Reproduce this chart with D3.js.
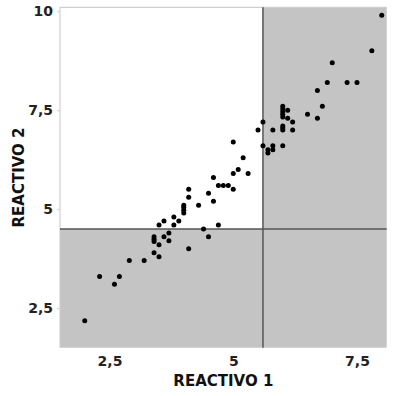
<!DOCTYPE html>
<html>
<head>
<meta charset="utf-8">
<script src="https://cdn.jsdelivr.net/npm/d3@7"></script>
<style>
  body { margin: 0; background: #fff; }
  .tickText { font-family: "DejaVu Sans", sans-serif; font-weight: bold; font-size: 14px; fill: #222; }
  .axisText { font-family: "DejaVu Sans", sans-serif; font-weight: bold; font-size: 15px; fill: #111; }
</style>
</head>
<body>
<div id="scatter"></div>
<script>
// Data.
var reactivo1 = [2.0, 2.3, 2.6, 2.7, 2.9, 3.2, 3.4, 3.5, 3.5, 3.4, 3.4, 3.4,
    3.6, 3.7, 3.7, 3.5, 3.6, 3.8, 3.8, 3.9, 4.0, 4.0, 4.0, 4.0, 4.1, 4.1, 4.1,
    4.3, 4.4, 4.5, 4.5, 4.6, 4.6, 4.7, 4.7, 4.8, 4.9, 5.0, 5.0, 5.0,
    5.1, 5.2, 5.3, 5.5, 5.6, 5.6, 5.7, 5.7, 5.8, 5.8, 5.8,
    6.0, 6.0, 6.0, 6.0, 6.0, 6.0, 6.0, 6.0, 6.0, 6.1, 6.1, 6.2, 6.2,
    6.5, 6.7, 6.7, 6.8, 6.9, 7.0, 7.3, 7.5, 7.8, 8.0];
var reactivo2 = [2.18, 3.3, 3.1, 3.3, 3.7, 3.7, 3.9, 3.8, 4.1, 4.3, 4.24, 4.18,
    4.3, 4.2, 4.4, 4.6, 4.7, 4.6, 4.8, 4.7, 5.1, 5.04, 4.97, 4.9, 5.5, 5.3, 4.0,
    5.1, 4.5, 4.3, 5.4, 5.2, 5.8, 4.6, 5.6, 5.6, 5.6, 5.5, 5.9, 6.7,
    6.0, 6.3, 5.9, 7.0, 7.2, 6.6, 6.5, 6.42, 6.6, 6.5, 7.0,
    6.6, 7.1, 7.05, 7.0, 7.6, 7.53, 7.46, 7.4, 7.33, 7.5, 7.3, 7.2, 7.0,
    7.4, 7.3, 8.0, 7.6, 8.2, 8.7, 8.2, 8.2, 9.0, 9.9];

// Reference lines (cut points).
var cutX = 5.6;
var cutY = 4.5;

var xTicks = [2.5, 5, 7.5];
var yTicks = [2.5, 5, 7.5, 10];

var svgWidth = 399;
var svgHeight = 396;

var margin = {
    top: 7.3,
    bottom: 48.3,
    right: 12.3,
    left: 60
};

var height = svgHeight - margin.top - margin.bottom;
var width = svgWidth - margin.left - margin.right;

var svg = d3.select("#scatter")
    .append("svg")
    .attr("width", svgWidth)
    .attr("height", svgHeight);

var chartGroup = svg.append("g")
    .attr("transform", `translate(${margin.left}, ${margin.top})`);

var points = reactivo1.map((d, i) => ({ x: d, y: reactivo2[i] }));

// Scales.
var xLinearScale = d3.scaleLinear()
    .domain([1.5, 8.1])
    .range([0, width]);

var yLinearScale = d3.scaleLinear()
    .domain([1.5, 10.1])
    .range([height, 0]);

var fmt = d => String(d).replace(".", ",");

// Gray quadrants: everything except the upper-left one.
chartGroup.append("rect")
    .attr("x", 0)
    .attr("y", 0)
    .attr("width", width)
    .attr("height", height)
    .attr("fill", "#c4c4c4");

chartGroup.append("rect")
    .attr("x", 0)
    .attr("y", 0)
    .attr("width", xLinearScale(cutX))
    .attr("height", yLinearScale(cutY))
    .attr("fill", "#fff");

// Frame on top and left.
chartGroup.append("path")
    .attr("d", `M0,${height}V0H${width}`)
    .attr("fill", "none")
    .attr("stroke", "#cfcfcf")
    .attr("stroke-width", 1.2);

// Axes.
var bottomAxis = d3.axisBottom(xLinearScale)
    .tickValues(xTicks)
    .tickFormat(fmt)
    .tickSize(0)
    .tickPadding(8);
var leftAxis = d3.axisLeft(yLinearScale)
    .tickValues(yTicks)
    .tickFormat(fmt)
    .tickSize(3)
    .tickPadding(4);

var xAxis = chartGroup.append("g")
    .attr("transform", `translate(0, ${height})`)
    .call(bottomAxis);
xAxis.select(".domain").remove();
xAxis.selectAll("text").attr("class", "tickText").attr("fill", null);

var yAxis = chartGroup.append("g")
    .call(leftAxis);
yAxis.select(".domain").remove();
yAxis.selectAll("line").attr("stroke", "#cfcfcf");
yAxis.selectAll("text").attr("class", "tickText").attr("fill", null);

// Reference lines.
chartGroup.append("line")
    .attr("x1", xLinearScale(cutX))
    .attr("x2", xLinearScale(cutX))
    .attr("y1", 0)
    .attr("y2", height)
    .attr("stroke", "#555")
    .attr("stroke-width", 1.5);

chartGroup.append("line")
    .attr("x1", 0)
    .attr("x2", width)
    .attr("y1", yLinearScale(cutY))
    .attr("y2", yLinearScale(cutY))
    .attr("stroke", "#555")
    .attr("stroke-width", 1.5);

// Points.
chartGroup.selectAll("circle")
    .data(points)
    .enter()
    .append("circle")
    .attr("cx", d => xLinearScale(d.x))
    .attr("cy", d => yLinearScale(d.y))
    .attr("r", 2.5)
    .attr("fill", "#000");

// Axis labels.
chartGroup.append("text")
    .attr("transform", "rotate(-90)")
    .attr("x", 0 - (height / 2))
    .attr("y", 0 - margin.left + 24)
    .attr("text-anchor", "middle")
    .attr("class", "axisText")
    .text("REACTIVO 2");

chartGroup.append("text")
    .attr("transform", `translate(${width / 2}, ${height + 38})`)
    .attr("text-anchor", "middle")
    .attr("class", "axisText")
    .text("REACTIVO 1");
</script>
</body>
</html>
